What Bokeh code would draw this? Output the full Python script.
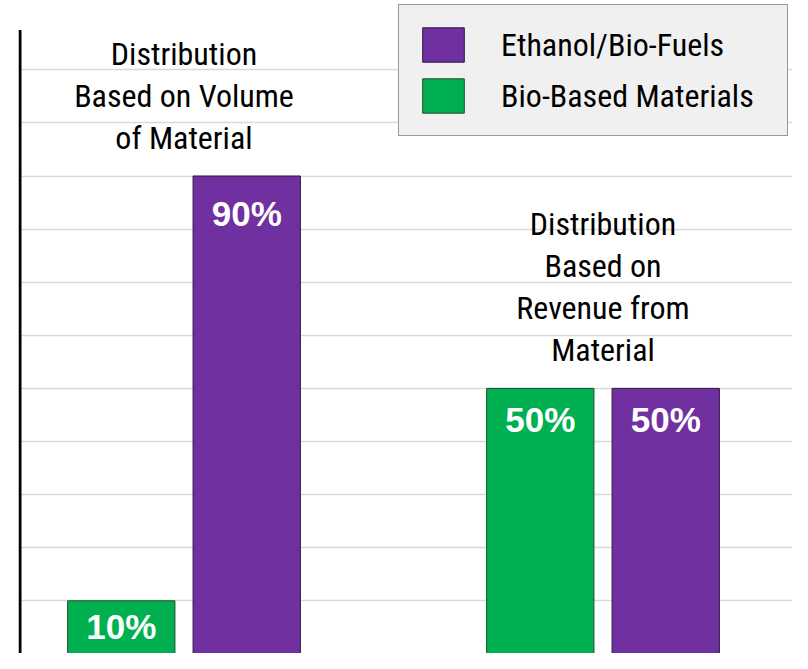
from bokeh.plotting import figure
from bokeh.models import ColumnDataSource, FixedTicker, Legend, LegendItem, Range1d
from bokeh.core.properties import value
from bokeh.transform import dodge
from bokeh.embed import file_html
from bokeh.resources import INLINE

# ---- data ----
groups = ["Distribution\nBased on Volume\nof Material",
          "Distribution\nBased on\nRevenue from\nMaterial"]
group_pos = [0, 1]
bio_based = [10, 50]          # Bio-Based Materials (%)
ethanol = [90, 50]            # Ethanol/Bio-Fuels (%)
bio_labels = ["10%", "50%"]
eth_labels = ["90%", "50%"]
grid_ticks = [10, 20, 30, 40, 50, 60, 70, 80, 90, 100, 110]
axis_top = 117.5

# ---- styles ----
PURPLE = "#7030A0"
GREEN = "#00B050"
NARROW = "Roboto Condensed"
bio_label_offsets = [26, 31]
eth_label_offsets = [37, 31]

W, H = 792, 653
px_per_unit = 419.0
group0_px = 183.5
left_px = 18
x_start = (left_px - group0_px) / px_per_unit
x_end = (W - group0_px) / px_per_unit
px_per_pct = 5.31
zero_px = 653.4
y_start = (zero_px - H) / px_per_pct
y_end = zero_px / px_per_pct

p = figure(width=W, height=H, output_backend="svg", toolbar_location=None,
           x_range=Range1d(x_start, x_end), y_range=Range1d(y_start, y_end),
           min_border_left=left_px, min_border_right=0, min_border_top=0, min_border_bottom=0)
p.xaxis.visible = False
p.yaxis.visible = False
p.xgrid.visible = False
p.ygrid.ticker = FixedTicker(ticks=grid_ticks)
p.ygrid.grid_line_color = "#d9d9d9"
p.ygrid.grid_line_width = 1.5
p.outline_line_color = None
p.background_fill_color = "white"
p.border_fill_color = "white"

src = ColumnDataSource(dict(pos=group_pos, bio=bio_based, eth=ethanol,
                            bio_lab=bio_labels, eth_lab=eth_labels,
                            bio_off=bio_label_offsets, eth_off=eth_label_offsets,
                            title=groups, top=[max(a, b) for a, b in zip(bio_based, ethanol)]))

off = 0.1497
w = 0.2561
r_bio = p.vbar(x=dodge("pos", -off, range=p.x_range), top="bio", width=w, bottom=0,
               source=src, fill_color=GREEN, line_color="#1f4d2c", line_width=1)
r_eth = p.vbar(x=dodge("pos", off, range=p.x_range), top="eth", width=w, bottom=0,
               source=src, fill_color=PURPLE, line_color="#2b1740", line_width=1)

p.text(x=dodge("pos", -off, range=p.x_range), y="bio", text="bio_lab", source=src,
       y_offset="bio_off", text_align="center", text_baseline="middle",
       text_font=value("Liberation Sans"), text_font_style="bold",
       text_font_size="35px", text_color="white")
p.text(x=dodge("pos", off, range=p.x_range), y="eth", text="eth_lab", source=src,
       y_offset="eth_off", text_align="center", text_baseline="middle",
       text_font=value("Liberation Sans"), text_font_style="bold",
       text_font_size="35px", text_color="white")

p.text(x="pos", y="top", text="title", source=src, y_offset=-19,
       text_align="center", text_baseline="bottom", text_line_height=1.11,
       text_font=value(NARROW), text_font_size="32px", text_color="#000000")

# left axis line
ax_x = x_start + 1.5 / px_per_unit
p.segment(x0=[ax_x], y0=[y_start], x1=[ax_x], y1=[axis_top], line_color="black", line_width=3)

legend = Legend(items=[LegendItem(label="Ethanol/Bio-Fuels", renderers=[r_eth]),
                       LegendItem(label="Bio-Based Materials", renderers=[r_bio])],
                location="top_right", margin=4, padding=18, spacing=8,
                glyph_width=52, glyph_height=43, label_standoff=32, label_width=268,
                label_text_font=NARROW, label_text_font_size="32px",
                label_text_color="#000000",
                background_fill_color="#f0f0f0", background_fill_alpha=1,
                border_line_color="#404040", border_line_width=1)
p.add_layout(legend)

open("out.html", "w").write(file_html(p, INLINE))
